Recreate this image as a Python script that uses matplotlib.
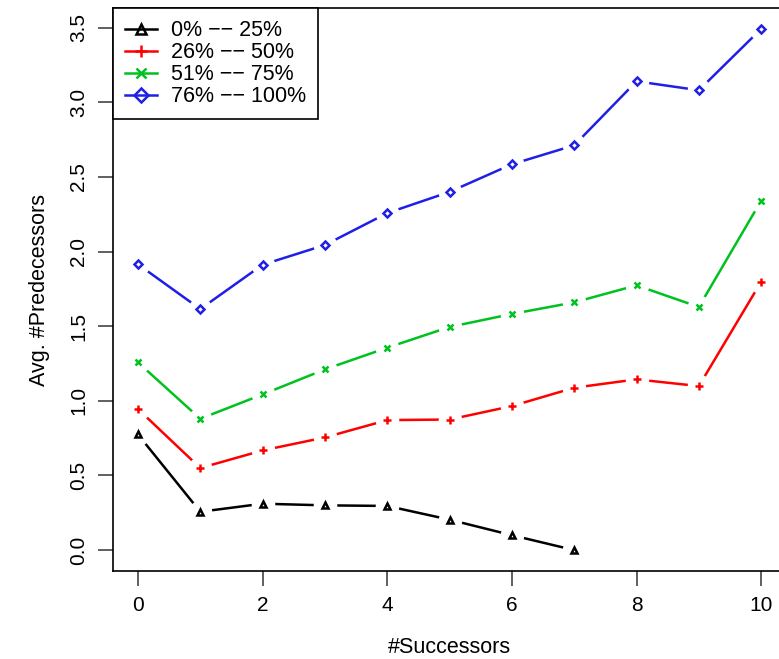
import matplotlib as mpl
mpl.use('Agg')
import matplotlib.pyplot as plt
from matplotlib.lines import Line2D

plt.rcParams['font.family'] = ['Liberation Sans', 'DejaVu Sans']

# average number of predecessors per successor count, one series per group
successors = list(range(11))
q1_x = successors[:8]
q1 = [0.775, 0.257, 0.311, 0.300, 0.296, 0.204, 0.100, 0.000]
q2 = [0.945, 0.550, 0.668, 0.755, 0.871, 0.875, 0.965, 1.088, 1.144, 1.099, 1.798]
q3 = [1.258, 0.880, 1.043, 1.211, 1.356, 1.495, 1.582, 1.660, 1.774, 1.629, 2.341]
q4 = [1.915, 1.615, 1.912, 2.044, 2.258, 2.400, 2.585, 2.712, 3.141, 3.081, 3.492]
labels = ['0% \u2212\u2212 25%', '26% \u2212\u2212 50%', '51% \u2212\u2212 75%', '76% \u2212\u2212 100%']
xticks = [0, 2, 4, 6, 8, 10]
yticks = [0.0, 0.5, 1.0, 1.5, 2.0, 2.5, 3.0, 3.5]

series = [
    (q1_x, q1, 'black', '^', 4.5),
    (successors, q2, '#ff0000', '+', 6),
    (successors, q3, '#00c21e', 'x', 4.5),
    (successors, q4, '#1f1fe6', 'D', 4),
]

fig = plt.figure(figsize=(7.79, 6.59), dpi=100)
ax = fig.add_axes([0.1451, 0.1335, 0.864, 0.8539])

handles = []
for xs, ys, col, mk, ms in series:
    ax.plot(xs, ys, color=col, lw=1.8, zorder=2)
    # white discs give the gap between line and point (R type="b")
    ax.plot(xs, ys, ls='none', marker='o', ms=17, mfc='white', mec='none', zorder=3)
    face = 'none' if mk in ('^', 'D') else col
    ax.plot(xs, ys, ls='none', marker=mk, ms=ms, mfc=face, mec=col, mew=1.8, zorder=4)
    handles.append(Line2D([], [], color=col, lw=1.8, marker=mk, ms=ms + 3,
                          mfc=face, mec=col, mew=1.8))

ax.set_xlim(-0.4, 10.4)
ax.set_ylim(-0.14, 3.63)
ax.set_xticks(xticks)
ax.set_xticklabels([str(t) for t in xticks])
ax.set_yticks(yticks)
ax.set_yticklabels(['%.1f' % t for t in yticks], rotation=90, va='center')
ax.tick_params(axis='both', direction='out', length=11, width=1.2, color='#444444',
               labelsize=15)
ax.tick_params(axis='x', pad=7)
ax.tick_params(axis='y', pad=7)
for sp in ax.spines.values():
    sp.set_linewidth(1.2)

ax.set_xlabel('#Successors', fontsize=15.5, labelpad=16)
ax.set_ylabel('Avg. #Predecessors', fontsize=15.5, labelpad=14)

leg = ax.legend(handles, labels, loc='upper left', bbox_to_anchor=(0, 1),
                borderaxespad=0, fancybox=False, edgecolor='black', framealpha=1,
                fontsize=15.5, handlelength=1.5, handletextpad=0.65,
                labelspacing=0.05, borderpad=0.55)
leg.get_frame().set_linewidth(1.2)

plt.savefig('out.png', dpi=100)
